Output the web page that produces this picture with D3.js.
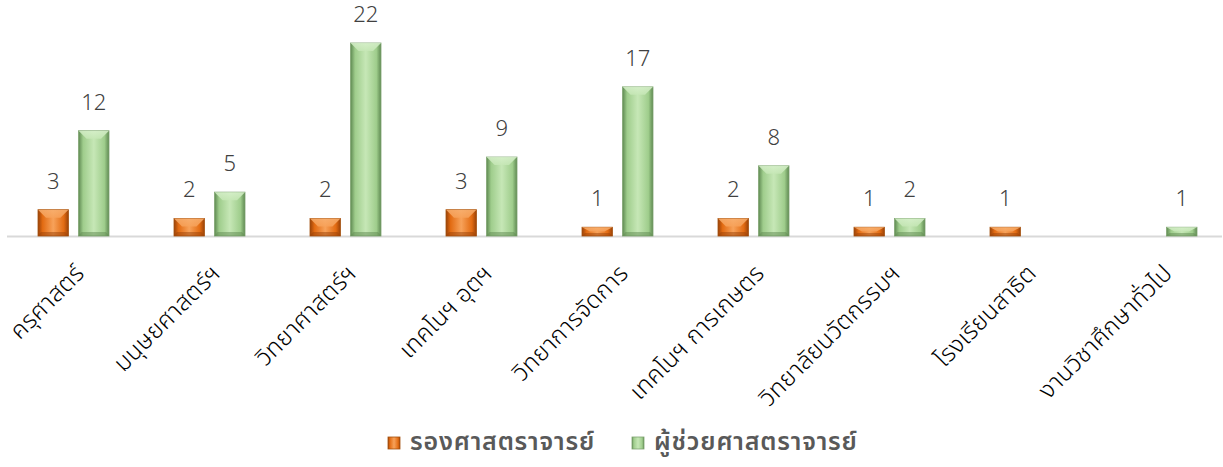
<!DOCTYPE html>
<html><head><meta charset="utf-8">
<script src="https://cdn.jsdelivr.net/npm/d3@7"></script>
<style>
html,body{margin:0;padding:0;background:#fff;}
svg{display:block;}
text{font-family:"Noto Sans Thai","Noto Sans","DejaVu Sans",sans-serif;}
</style></head>
<body>
<svg id="chart" width="1223" height="467"></svg>
<script>
const categories = ["ครุศาสตร์","มนุษยศาสตร์ฯ","วิทยาศาสตร์ฯ","เทคโนฯ อุตฯ","วิทยาการจัดการ","เทคโนฯ การเกษตร","วิทยาลัยนวัตกรรมฯ","โรงเรียนสาธิต","งานวิชาศึกษาทั่วไป"];
const seriesNames = ["รองศาสตราจารย์","ผู้ช่วยศาสตราจารย์"];
const assocProf = [3,2,2,3,1,2,1,1,null];
const asstProf = [12,5,22,9,17,8,2,null,1];

const svg = d3.select("#chart");

const x0 = d3.scaleBand().domain(categories).range([5,1229]);
const x1 = d3.scaleBand().domain(seriesNames).range([33,104]).paddingInner(0.25);
const y = d3.scaleLinear().domain([0,22]).range([236,43]);

const defs = svg.append("defs");
function grads(id, edge, mid, base, topLight){
  const g = defs.append("linearGradient").attr("id",id).attr("x1","0").attr("x2","1").attr("y1","0").attr("y2","0");
  g.append("stop").attr("offset","0").attr("stop-color",edge);
  g.append("stop").attr("offset","0.15").attr("stop-color",base);
  g.append("stop").attr("offset","0.5").attr("stop-color",mid);
  g.append("stop").attr("offset","0.85").attr("stop-color",base);
  g.append("stop").attr("offset","1").attr("stop-color",edge);
  const t = defs.append("linearGradient").attr("id",id+"T").attr("x1","0").attr("x2","0").attr("y1","0").attr("y2","1");
  t.append("stop").attr("offset","0").attr("stop-color",topLight);
  t.append("stop").attr("offset","1").attr("stop-color",mid);
}
grads("gO","#9a4208","#f7a25a","#e26b12","#f8b070");
grads("gG","#5f8a52","#c6e7b6","#9fcd8c","#d7f0cb");
const fills = {"รองศาสตราจารย์":"gO","ผู้ช่วยศาสตราจารย์":"gG"};

// baseline
svg.append("line").attr("x1",7).attr("x2",1222).attr("y1",y(0)+0.5).attr("y2",y(0)+0.5)
  .attr("stroke","#d9d9d9").attr("stroke-width",2);

const rows = categories.map((c,i)=>({cat:c, vals:[
  {s:seriesNames[0], v:assocProf[i]},
  {s:seriesNames[1], v:asstProf[i]}]}));

const groups = svg.selectAll("g.cat").data(rows).join("g").attr("class","cat")
  .attr("transform",d=>`translate(${x0(d.cat)},0)`);

const bars = groups.selectAll("g.bar").data(d=>d.vals.filter(v=>v.v!=null)).join("g").attr("class","bar");
bars.append("rect")
  .attr("x",d=>x1(d.s)).attr("y",d=>y(d.v))
  .attr("width",x1.bandwidth()).attr("height",d=>y(0)-y(d.v))
  .attr("fill",d=>`url(#${fills[d.s]})`)
  .attr("stroke",d=>d.s===seriesNames[0]?"#a4520f":"#7ea370").attr("stroke-width",0.8);
// top bevel
bars.append("path")
  .attr("d",d=>{
    const xl=x1(d.s), xr=xl+x1.bandwidth(), yt=y(d.v), h=y(0)-y(d.v);
    const b=Math.min(8,h/2), inset=Math.min(8,x1.bandwidth()/2-2);
    return `M${xl},${yt}L${xr},${yt}L${xr-inset},${yt+b}L${xl+inset},${yt+b}Z`;
  })
  .attr("fill",d=>`url(#${fills[d.s]}T)`).attr("opacity",0.85);
// bottom shade
bars.append("path")
  .attr("d",d=>{
    const xl=x1(d.s), xr=xl+x1.bandwidth(), yb=y(0), h=y(0)-y(d.v);
    const b=Math.min(4,h/3);
    return `M${xl},${yb}L${xr},${yb}L${xr-3},${yb-b}L${xl+3},${yb-b}Z`;
  })
  .attr("fill",d=>d.s===seriesNames[0]?"#9a4208":"#5f8a52").attr("opacity",0.5);

// value labels
bars.append("text")
  .attr("x",d=>x1(d.s)+x1.bandwidth()/2)
  .attr("y",d=>y(d.v)-21)
  .attr("text-anchor","middle")
  .attr("font-size",22).attr("font-weight",300).attr("fill","#404040")
  .text(d=>d.v);

// category labels
groups.append("text")
  .attr("transform",d=>`translate(${x0.bandwidth()/2+8},270) rotate(-45)`)
  .attr("text-anchor","end")
  .attr("dominant-baseline","middle")
  .attr("font-size",24).attr("font-weight",300).attr("letter-spacing",0.3).attr("fill","#000")
  .text(d=>d.cat);

// legend
const leg = [{s:seriesNames[0],x:388},{s:seriesNames[1],x:632}];
const lg = svg.selectAll("g.leg").data(leg).join("g").attr("class","leg")
  .attr("transform",d=>`translate(${d.x},437)`);
lg.append("rect").attr("width",12).attr("height",12).attr("fill",d=>`url(#${fills[d.s]})`)
  .attr("stroke",d=>d.s===seriesNames[0]?"#a4520f":"#7ea370").attr("stroke-width",0.8);
lg.append("text").attr("x",22).attr("y",6).attr("dominant-baseline","middle")
  .attr("font-size",25).attr("font-weight",600).attr("letter-spacing",0.8).attr("fill","#595959").text(d=>d.s);
</script>
</body></html>
